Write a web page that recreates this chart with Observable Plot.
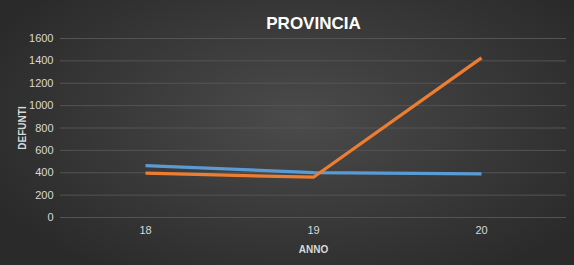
<!DOCTYPE html>
<html>
<head>
<meta charset="utf-8">
<script src="https://cdn.jsdelivr.net/npm/d3@7"></script>
<script src="https://cdn.jsdelivr.net/npm/@observablehq/plot@0.6"></script>
<style>
html,body{margin:0;padding:0;}
#chart{width:574px;height:265px;position:relative;overflow:hidden;
 background: radial-gradient(ellipse 60% 70% at 52% 45%, #4b4b4b 0%, #3c3c3c 45%, #2a2a2a 100%);}
svg{display:block;}
</style>
</head>
<body>
<div id="chart"></div>
<script>
const years = ["18", "19", "20"];
const blueValues = [464, 402, 390];
const orangeValues = [396, 360, 1426];
const yTicks = [0, 200, 400, 600, 800, 1000, 1200, 1400, 1600];
const title = "PROVINCIA";

const rows = [];
years.forEach((y, i) => rows.push({anno: y, val: blueValues[i], serie: "blu"}));
years.forEach((y, i) => rows.push({anno: y, val: orangeValues[i], serie: "arancio"}));

const font = "Liberation Sans, Arial, sans-serif";
const plot = Plot.plot({
  width: 574,
  height: 265,
  marginTop: 38,
  marginBottom: 48,
  marginLeft: 60,
  marginRight: 8,
  style: {background: "transparent", color: "#d9d9d9", fontFamily: font, fontSize: "11px"},
  x: {type: "point", domain: years, padding: 0.5},
  y: {domain: [0, 1600]},
  color: {domain: ["blu", "arancio"], range: ["#5b9bd5", "#ed7d31"]},
  marks: [
    Plot.gridY(yTicks, {stroke: "#545454", strokeOpacity: 1, strokeWidth: 1}),
    Plot.axisY(yTicks, {tickSize: 0, tickPadding: 7, tickFormat: d => String(d), label: "DEFUNTI", labelAnchor: "center", labelOffset: 42, labelArrow: "none", fill: "#d9d9d9"}),
    Plot.axisX({tickSize: 0, tickPadding: 9, label: "ANNO", labelAnchor: "center", labelOffset: 35, labelArrow: "none", fill: "#d9d9d9"}),
    Plot.line(rows, {x: "anno", y: "val", z: "serie", stroke: "serie", strokeWidth: 3.3, strokeLinejoin: "miter", strokeLinecap: "butt"}),
    Plot.text([title], {frameAnchor: "top", dy: -22, text: d => d, fill: "#ffffff", fontSize: 17, fontWeight: "bold", fontFamily: font})
  ]
});
plot.querySelectorAll('[aria-label="y-axis label"] text, [aria-label="x-axis label"] text').forEach(t => {
  t.setAttribute("font-weight", "bold");
  t.setAttribute("font-size", "10");
  t.setAttribute("fill", "#d9d9d9");
});
document.getElementById("chart").appendChild(plot);
</script>
</body>
</html>
